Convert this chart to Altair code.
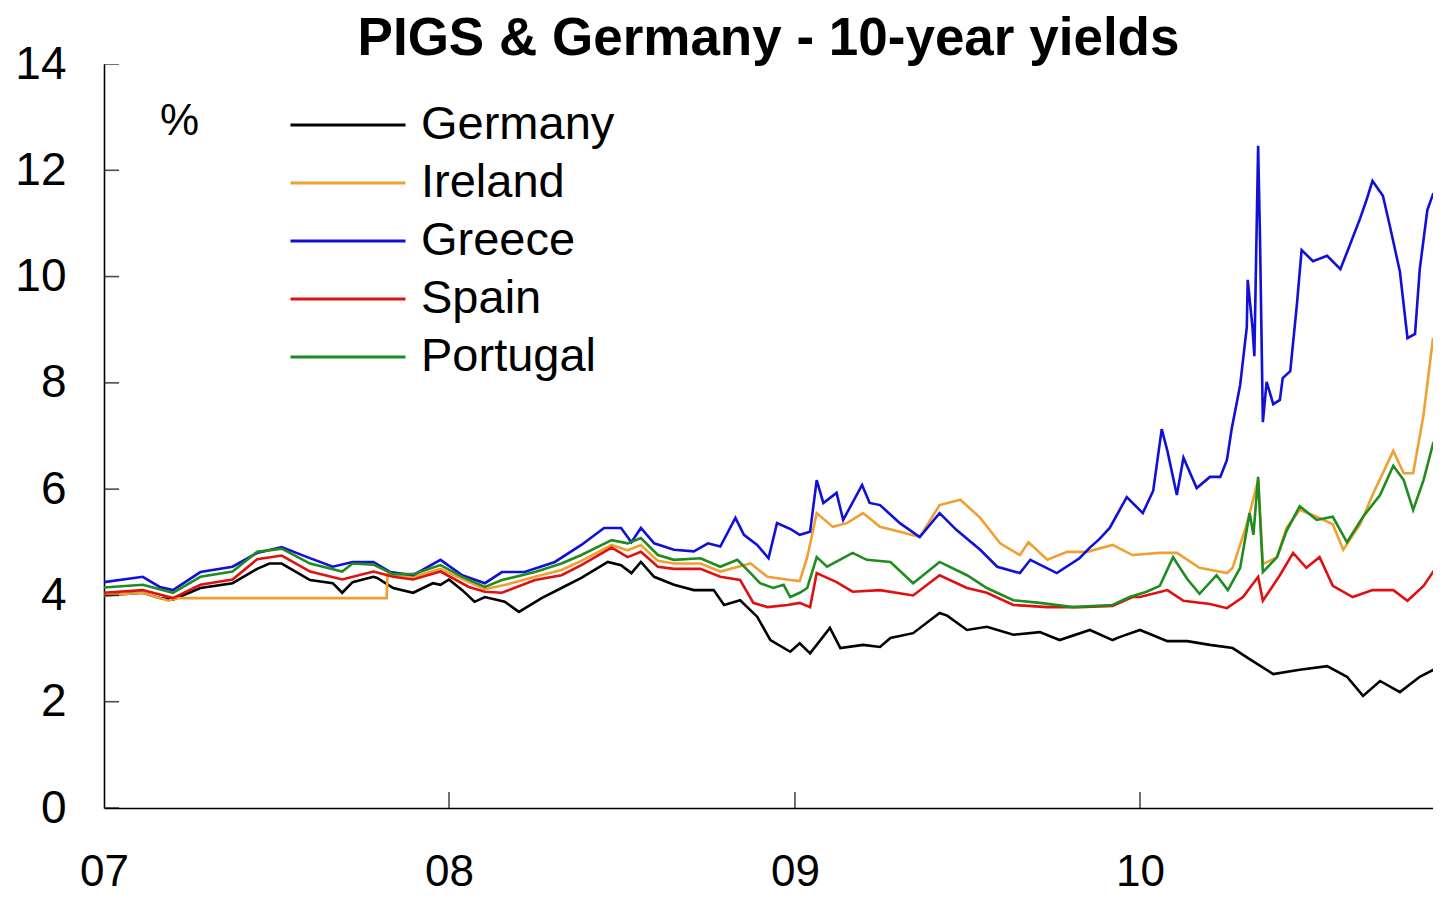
import altair as alt
import pandas as pd

countries = ["Germany", "Ireland", "Greece", "Spain", "Portugal"]
colors = ["#000000", "#f0a030", "#1010d8", "#e01010", "#1e8c1e"]

germany = [
    ("2007-01-01", 4.0), ("2007-02-11", 4.05), ("2007-03-01", 3.95), ("2007-03-15", 3.92),
    ("2007-04-13", 4.14), ("2007-05-17", 4.23), ("2007-06-12", 4.5), ("2007-06-25", 4.6),
    ("2007-07-08", 4.6), ("2007-08-07", 4.29), ("2007-08-31", 4.23), ("2007-09-10", 4.05),
    ("2007-09-21", 4.25), ("2007-10-13", 4.35), ("2007-10-17", 4.33), ("2007-11-03", 4.14),
    ("2007-11-24", 4.05), ("2007-12-15", 4.23), ("2007-12-23", 4.2),
    ("2008-01-01", 4.3), ("2008-01-15", 4.1), ("2008-01-28", 3.88), ("2008-02-08", 3.97),
    ("2008-02-29", 3.88), ("2008-03-15", 3.69), ("2008-04-08", 3.95), ("2008-04-29", 4.14),
    ("2008-05-20", 4.33), ("2008-06-17", 4.63), ("2008-07-01", 4.57), ("2008-07-12", 4.42),
    ("2008-07-22", 4.63), ("2008-08-05", 4.35), ("2008-08-26", 4.2), ("2008-09-16", 4.1),
    ("2008-10-07", 4.1), ("2008-10-18", 3.82), ("2008-11-04", 3.91), ("2008-11-22", 3.6),
    ("2008-12-06", 3.16), ("2008-12-27", 2.94),
    ("2009-01-06", 3.1), ("2009-01-17", 2.91), ("2009-02-07", 3.39), ("2009-02-18", 3.01),
    ("2009-03-14", 3.07), ("2009-04-01", 3.03), ("2009-04-12", 3.2), ("2009-05-06", 3.29),
    ("2009-06-03", 3.67), ("2009-06-11", 3.62), ("2009-07-02", 3.35), ("2009-07-23", 3.41),
    ("2009-08-20", 3.26), ("2009-09-17", 3.31), ("2009-10-08", 3.16), ("2009-11-09", 3.35),
    ("2009-12-03", 3.16), ("2009-12-11", 3.22),
    ("2010-01-01", 3.35), ("2010-01-30", 3.14), ("2010-02-20", 3.14), ("2010-03-16", 3.07),
    ("2010-04-09", 3.01), ("2010-04-27", 2.8), ("2010-05-22", 2.52), ("2010-06-19", 2.6),
    ("2010-07-18", 2.67), ("2010-08-08", 2.47), ("2010-08-25", 2.11), ("2010-09-12", 2.39),
    ("2010-10-03", 2.18), ("2010-10-24", 2.47), ("2010-11-15", 2.67),
]

ireland = [
    ("2007-01-01", 4.0), ("2007-02-11", 4.05), ("2007-03-10", 3.9), ("2007-03-20", 3.95),
    ("2007-10-27", 3.95), ("2007-10-28", 4.4), ("2007-11-24", 4.35), ("2007-12-23", 4.5),
    ("2008-01-22", 4.25), ("2008-02-08", 4.12), ("2008-03-01", 4.2), ("2008-04-01", 4.35),
    ("2008-04-29", 4.48), ("2008-05-20", 4.65), ("2008-06-21", 4.95), ("2008-07-08", 4.85),
    ("2008-07-22", 4.95), ("2008-08-09", 4.65), ("2008-08-26", 4.6), ("2008-09-23", 4.6),
    ("2008-10-14", 4.45), ("2008-11-15", 4.6), ("2008-12-03", 4.35), ("2008-12-27", 4.29),
    ("2009-01-06", 4.27), ("2009-01-14", 4.72), ("2009-01-24", 5.55), ("2009-02-10", 5.29),
    ("2009-02-25", 5.36), ("2009-03-14", 5.55), ("2009-04-01", 5.29), ("2009-04-22", 5.2),
    ("2009-05-13", 5.1), ("2009-06-03", 5.7), ("2009-06-25", 5.8), ("2009-07-16", 5.46),
    ("2009-08-06", 4.98), ("2009-08-27", 4.76), ("2009-09-05", 5.0), ("2009-09-25", 4.67),
    ("2009-10-16", 4.82), ("2009-11-06", 4.82), ("2009-12-03", 4.95), ("2009-12-24", 4.76),
    ("2010-01-22", 4.8), ("2010-02-09", 4.8), ("2010-03-05", 4.52), ("2010-04-03", 4.42),
    ("2010-04-09", 4.52), ("2010-04-24", 5.34), ("2010-05-06", 6.17), ("2010-05-11", 4.59),
    ("2010-05-26", 4.72), ("2010-06-05", 5.27), ("2010-06-19", 5.61), ("2010-07-07", 5.48),
    ("2010-07-24", 5.34), ("2010-08-04", 4.86), ("2010-08-22", 5.34), ("2010-09-04", 5.89),
    ("2010-09-26", 6.72), ("2010-10-07", 6.3), ("2010-10-17", 6.3), ("2010-10-28", 7.4),
    ("2010-11-07", 8.84), ("2010-11-12", 8.09), ("2010-11-15", 8.09),
]

greece = [
    ("2007-01-01", 4.25), ("2007-02-11", 4.35), ("2007-03-01", 4.16), ("2007-03-15", 4.1),
    ("2007-04-13", 4.44), ("2007-05-17", 4.54), ("2007-06-12", 4.8), ("2007-07-08", 4.91),
    ("2007-08-04", 4.72), ("2007-08-31", 4.54), ("2007-09-21", 4.63), ("2007-10-13", 4.63),
    ("2007-10-31", 4.44), ("2007-11-24", 4.38), ("2007-12-23", 4.67),
    ("2008-01-15", 4.38), ("2008-02-08", 4.23), ("2008-02-26", 4.44), ("2008-03-21", 4.44),
    ("2008-04-22", 4.63), ("2008-05-20", 4.95), ("2008-06-13", 5.27), ("2008-07-01", 5.27),
    ("2008-07-12", 5.0), ("2008-07-22", 5.27), ("2008-08-05", 4.98), ("2008-08-26", 4.86),
    ("2008-09-16", 4.83), ("2008-10-01", 4.98), ("2008-10-14", 4.92), ("2008-10-30", 5.46),
    ("2008-11-08", 5.14), ("2008-11-22", 4.95), ("2008-12-04", 4.7), ("2008-12-13", 5.36),
    ("2008-12-27", 5.25),
    ("2009-01-06", 5.14), ("2009-01-17", 5.2), ("2009-01-24", 6.17), ("2009-01-31", 5.74),
    ("2009-02-14", 5.93), ("2009-02-21", 5.42), ("2009-03-13", 6.08), ("2009-03-21", 5.74),
    ("2009-04-01", 5.7), ("2009-04-22", 5.36), ("2009-05-13", 5.1), ("2009-06-03", 5.55),
    ("2009-06-21", 5.23), ("2009-07-16", 4.86), ("2009-08-03", 4.54), ("2009-08-27", 4.42),
    ("2009-09-07", 4.67), ("2009-10-05", 4.42), ("2009-10-29", 4.7), ("2009-11-09", 4.9),
    ("2009-11-19", 5.06), ("2009-11-30", 5.27), ("2009-12-18", 5.85),
    ("2010-01-04", 5.55), ("2010-01-15", 5.97), ("2010-01-24", 7.13), ("2010-01-30", 6.72),
    ("2010-02-09", 5.89), ("2010-02-16", 6.59), ("2010-03-02", 6.02), ("2010-03-16", 6.23),
    ("2010-03-27", 6.23), ("2010-04-03", 6.55), ("2010-04-08", 7.13), ("2010-04-17", 7.96),
    ("2010-04-24", 9.05), ("2010-04-25", 9.94), ("2010-04-30", 9.05), ("2010-05-02", 8.5),
    ("2010-05-06", 12.46), ("2010-05-08", 10.7), ("2010-05-11", 7.26), ("2010-05-15", 8.02),
    ("2010-05-22", 7.6), ("2010-05-29", 7.68), ("2010-06-01", 8.09), ("2010-06-09", 8.22),
    ("2010-06-16", 9.47), ("2010-06-21", 10.5), ("2010-07-03", 10.29), ("2010-07-18", 10.39),
    ("2010-08-01", 10.14), ("2010-08-09", 10.5), ("2010-08-22", 11.1), ("2010-08-29", 11.46),
    ("2010-09-04", 11.8), ("2010-09-15", 11.52), ("2010-09-23", 10.9), ("2010-10-03", 10.09),
    ("2010-10-11", 8.84), ("2010-10-19", 8.92), ("2010-10-24", 10.14), ("2010-11-01", 11.25),
    ("2010-11-07", 11.55), ("2010-11-15", 11.67),
]

spain = [
    ("2007-01-01", 4.05), ("2007-02-11", 4.1), ("2007-03-15", 3.95), ("2007-04-13", 4.2),
    ("2007-05-17", 4.3), ("2007-06-12", 4.68), ("2007-07-08", 4.75), ("2007-08-07", 4.45),
    ("2007-09-10", 4.3), ("2007-10-13", 4.45), ("2007-11-03", 4.35), ("2007-11-24", 4.3),
    ("2007-12-23", 4.45),
    ("2008-01-22", 4.16), ("2008-02-08", 4.07), ("2008-02-26", 4.05), ("2008-04-01", 4.29),
    ("2008-04-29", 4.38), ("2008-05-20", 4.57), ("2008-06-21", 4.9), ("2008-07-08", 4.72),
    ("2008-07-22", 4.82), ("2008-08-09", 4.54), ("2008-08-26", 4.5), ("2008-09-23", 4.5),
    ("2008-10-14", 4.35), ("2008-11-04", 4.29), ("2008-11-18", 3.86), ("2008-12-03", 3.78),
    ("2008-12-24", 3.82),
    ("2009-01-06", 3.86), ("2009-01-17", 3.78), ("2009-01-24", 4.42), ("2009-02-14", 4.25),
    ("2009-03-03", 4.07), ("2009-04-01", 4.1), ("2009-05-06", 4.0), ("2009-06-03", 4.38),
    ("2009-07-02", 4.14), ("2009-07-23", 4.05), ("2009-08-20", 3.82), ("2009-09-25", 3.78),
    ("2009-10-29", 3.78), ("2009-12-03", 3.8), ("2009-12-24", 3.97),
    ("2010-01-01", 3.97), ("2010-01-30", 4.1), ("2010-02-16", 3.9), ("2010-03-16", 3.84),
    ("2010-04-03", 3.76), ("2010-04-20", 3.97), ("2010-05-06", 4.35), ("2010-05-11", 3.9),
    ("2010-05-29", 4.38), ("2010-06-12", 4.8), ("2010-06-26", 4.52), ("2010-07-10", 4.72),
    ("2010-07-24", 4.18), ("2010-08-14", 3.97), ("2010-09-04", 4.1), ("2010-09-26", 4.1),
    ("2010-10-11", 3.9), ("2010-10-28", 4.18), ("2010-11-15", 4.65),
]

portugal = [
    ("2007-01-01", 4.15), ("2007-02-11", 4.2), ("2007-03-15", 4.05), ("2007-04-13", 4.35),
    ("2007-05-17", 4.45), ("2007-06-12", 4.82), ("2007-07-08", 4.88), ("2007-08-07", 4.6),
    ("2007-09-10", 4.45), ("2007-09-21", 4.6), ("2007-10-13", 4.58), ("2007-11-03", 4.4),
    ("2007-11-24", 4.4), ("2007-12-23", 4.57),
    ("2008-01-15", 4.35), ("2008-02-08", 4.16), ("2008-02-26", 4.29), ("2008-04-01", 4.44),
    ("2008-04-29", 4.6), ("2008-05-20", 4.76), ("2008-06-21", 5.04), ("2008-07-08", 4.98),
    ("2008-07-22", 5.08), ("2008-08-09", 4.76), ("2008-08-26", 4.67), ("2008-09-23", 4.7),
    ("2008-10-14", 4.54), ("2008-11-01", 4.67), ("2008-11-15", 4.42), ("2008-11-25", 4.23),
    ("2008-12-09", 4.14), ("2008-12-20", 4.2), ("2008-12-27", 3.97),
    ("2009-01-06", 4.05), ("2009-01-14", 4.14), ("2009-01-24", 4.72), ("2009-02-04", 4.54),
    ("2009-03-03", 4.8), ("2009-03-18", 4.67), ("2009-04-12", 4.63), ("2009-05-06", 4.23),
    ("2009-06-03", 4.63), ("2009-07-02", 4.38), ("2009-07-23", 4.14), ("2009-08-20", 3.91),
    ("2009-09-17", 3.86), ("2009-10-22", 3.78), ("2009-12-03", 3.82), ("2009-12-21", 3.97),
    ("2010-01-08", 4.07), ("2010-01-22", 4.18), ("2010-02-05", 4.72), ("2010-02-20", 4.31),
    ("2010-03-05", 4.03), ("2010-03-23", 4.38), ("2010-04-04", 4.1), ("2010-04-17", 4.52),
    ("2010-04-27", 5.55), ("2010-05-01", 5.14), ("2010-05-06", 6.23), ("2010-05-11", 4.44),
    ("2010-05-26", 4.72), ("2010-06-05", 5.21), ("2010-06-19", 5.68), ("2010-07-07", 5.42),
    ("2010-07-24", 5.48), ("2010-08-08", 5.0), ("2010-08-25", 5.48), ("2010-09-12", 5.89),
    ("2010-09-26", 6.44), ("2010-10-07", 6.17), ("2010-10-17", 5.61), ("2010-10-28", 6.17),
    ("2010-11-07", 6.85), ("2010-11-15", 6.72),
]

y_tick_values = [0, 2, 4, 6, 8, 10, 12, 14]
x_tick_years = [2008, 2009, 2010]
x_label_years = [2007, 2008, 2009, 2010]

series = {"Germany": germany, "Ireland": ireland, "Greece": greece,
          "Spain": spain, "Portugal": portugal}
rows = []
for c in countries:
    for d, v in series[c]:
        rows.append({"date": d + "T00:00:00", "country": c, "yield": v})
df = pd.DataFrame(rows)

FONT = "Liberation Sans"
x_start = alt.DateTime(year=2007, month=1, date=1)
x_scale = alt.Scale(domain=[x_start, alt.DateTime(year=2010, month=11, date=7)], nice=False)
y_scale = alt.Scale(domain=[0, 14], nice=False)

x_axis = alt.Axis(values=[alt.DateTime(year=y, month=1, date=1) for y in x_label_years],
                  format="%y", labelFlush=False, labelOverlap=False,
                  ticks=False, tickSize=0, labelPadding=42,
                  labelFontSize=44, labelFont=FONT, labelColor="black",
                  domainColor="black", domainWidth=1.6, grid=False, title=None)
y_axis = alt.Axis(values=y_tick_values, ticks=False, tickSize=0, labelPadding=38,
                  labelFontSize=46, labelFont=FONT, labelColor="black",
                  domainColor="black", domainWidth=1.6, grid=False, title=None)

lines = alt.Chart(df).mark_line(strokeWidth=2.6, clip=True).encode(
    x=alt.X("date:T", scale=x_scale, axis=x_axis),
    y=alt.Y("yield:Q", scale=y_scale, axis=y_axis),
    color=alt.Color("country:N",
                    scale=alt.Scale(domain=countries, range=colors),
                    legend=alt.Legend(orient="none", legendX=185, legendY=37,
                                      symbolType="stroke", symbolSize=13225,
                                      symbolStrokeWidth=2.8, labelFontSize=47,
                                      labelFont=FONT, labelColor="black", labelLimit=400,
                                      labelOffset=14, rowPadding=10, clipHeight=48,
                                      padding=0, title=None)),
)

ytick_df = pd.DataFrame({"v": y_tick_values})
yticks = alt.Chart(ytick_df).mark_tick(orient="horizontal", size=30, thickness=1.6,
                                       color="black", clip=True).encode(
    y=alt.Y("v:Q", scale=y_scale, axis=y_axis),
    x=alt.XDatum(x_start, axis=x_axis),
)

xtick_df = pd.DataFrame({"d": [f"{y}-01-01T00:00:00" for y in x_tick_years]})
xticks = alt.Chart(xtick_df).mark_tick(orient="vertical", size=32, thickness=1.6,
                                       color="black", clip=True).encode(
    x=alt.X("d:T", scale=x_scale, axis=x_axis),
    y=alt.YDatum(0, axis=y_axis),
)

pct = alt.Chart(pd.DataFrame({"t": ["%"]})).mark_text(
    font=FONT, fontSize=44, color="black", align="center", baseline="middle").encode(
    x=alt.XDatum(alt.DateTime(year=2007, month=3, date=22), axis=x_axis),
    y=alt.YDatum(12.9, axis=y_axis),
    text="t:N",
)

chart = alt.layer(lines, yticks, xticks, pct).properties(
    width=1329, height=744,
    title=alt.TitleParams("PIGS & Germany - 10-year yields", font=FONT, fontSize=53,
                          fontWeight="bold", anchor="middle", color="black",
                          frame="group", offset=0, baseline="alphabetic", dy=67),
    padding={"left": 96, "top": 56, "right": 0, "bottom": 86},
    autosize=alt.AutoSizeParams(type="none"),
    background="white",
).configure_view(stroke="transparent").configure_axis(grid=False)

chart.save("out.html", embed_options={"renderer": "svg", "actions": False})
